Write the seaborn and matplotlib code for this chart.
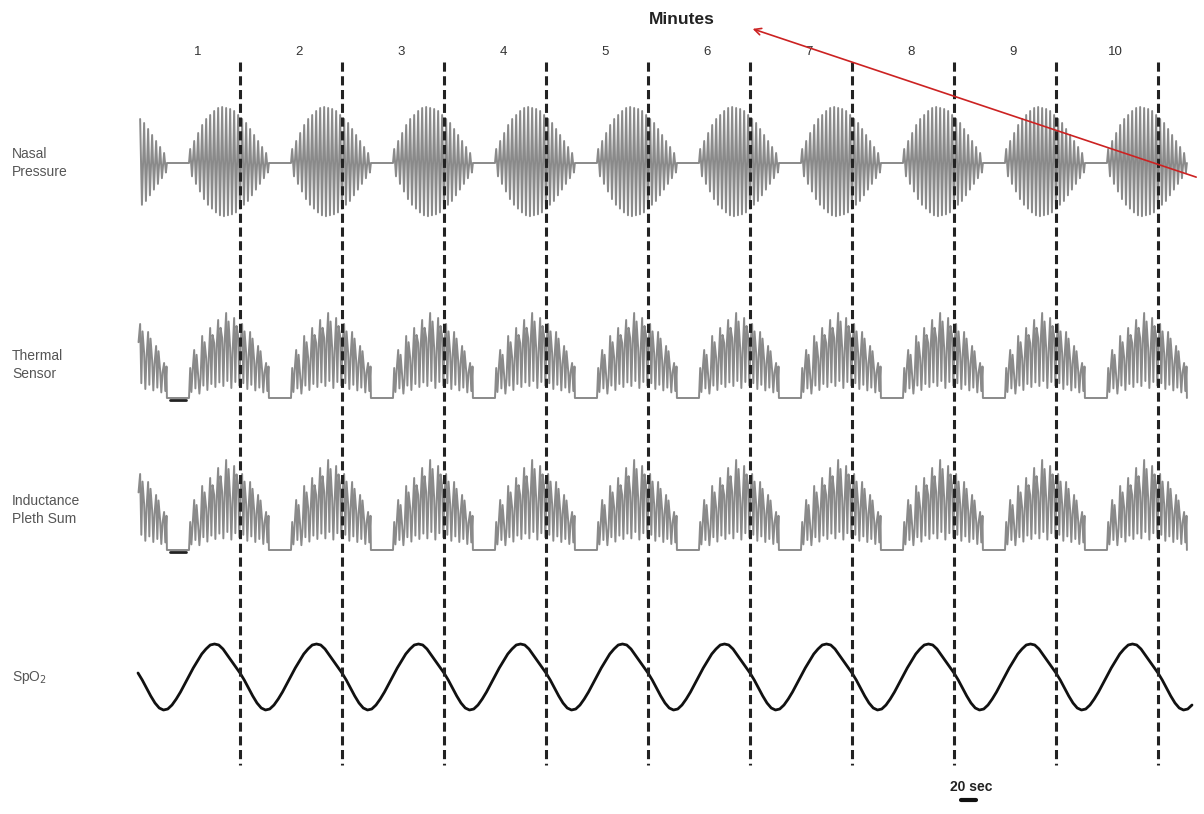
import pandas as pd
import seaborn as sns
import matplotlib.pyplot as plt

sns.set_theme(style="white")
plt.rcParams['font.family'] = ['Liberation Sans', 'DejaVu Sans']

minutes = [1, 2, 3, 4, 5, 6, 7, 8, 9, 10]
minute_lines = [60, 120, 180, 240, 300, 360, 420, 480, 540, 600]
channels = ["Nasal\nPressure", "Thermal\nSensor", "Inductance\nPleth Sum", "SpO$_2$"]
channel_y = [163, 365, 510, 677]

# breath amplitudes within one burst (pixel units)
nasal_amp = [14, 22, 30, 38, 44, 48, 52, 55, 56, 55, 54, 52, 48, 44, 40, 34, 28, 22, 16, 10]
thermal_amp = [30, 48, 22, 62, 40, 70, 55, 78, 60, 85, 50, 80, 62, 74, 45, 66, 38, 52, 28, 35]
pleth_amp = [28, 50, 24, 64, 42, 72, 55, 82, 58, 90, 52, 84, 64, 76, 46, 68, 40, 55, 30, 38]
# one SpO2 cycle (60 s, 2.5 s steps), pixel offsets (down = positive)
spo2_cycle = [-4, 3, 11, 19, 26, 31, 33, 32, 28, 22, 15, 7,
              -1, -9, -16, -23, -28, -32, -33, -32, -28, -22, -16, -10]

burst_start, burst_end = 30, 77
xmin, xmax = -138 / 102 * 60, (1204 - 138) / 102 * 60


def burst_signal(amps, base, bipolar):
    xs, ys = [], []
    for k in range(-1, 10):
        t0 = 60 * k + burst_start
        dt = (burst_end - burst_start) / len(amps)
        xs.append(t0); ys.append(base)
        for i, a in enumerate(amps):
            t = t0 + i * dt
            if bipolar:
                xs += [t + dt * 0.3, t + dt * 0.75]
                ys += [base - a, base + a * 0.95]
            else:
                xs += [t + dt * 0.3, t + dt * 0.6, t + dt * 0.9]
                ys += [base - a, base - a * 0.2, base - a * 0.9]
        xs.append(t0 + burst_end - burst_start); ys.append(base)
    df = pd.DataFrame({"x": xs, "y": ys})
    return df[(df.x >= 0) & (df.x <= 622)]


fig = plt.figure(figsize=(12.04, 8.14), dpi=100)
ax = fig.add_axes([0, 0, 1, 1])
fig.patch.set_facecolor("white")

gray = "#8a8a8a"
for df in [burst_signal(nasal_amp, 163, True),
           burst_signal(thermal_amp, 398, False),
           burst_signal(pleth_amp, 550, False)]:
    sns.lineplot(data=df, x="x", y="y", ax=ax, sort=False, estimator=None,
                 color=gray, lw=1.4)

# short dark baseline dashes at the first apnea
ax.plot([19, 28], [400, 400], color="#222222", lw=2)
ax.plot([19, 28], [552, 552], color="#222222", lw=2)

sx, sy = [], []
for k in range(11):
    for i, v in enumerate(spo2_cycle):
        sx.append(k * 60 + i * 2.5)
        sy.append(677 + v)
spo2 = pd.DataFrame({"x": sx, "y": sy})
spo2 = spo2[(spo2.x >= 0) & (spo2.x <= 622)]
sns.lineplot(data=spo2, x="x", y="y", ax=ax, sort=False, estimator=None,
             color="#111111", lw=2)

for xl in minute_lines:
    ax.plot([xl, xl], [62, 765], color="#222222", lw=2.2, ls=(0, (3, 1.5)))

for m in minutes:
    ax.text(60 * m - 25, 52, str(m), ha="center", va="center", fontsize=9.5, color="#333333")
ax.text(320, 20, "Minutes", ha="center", va="center", fontsize=12.5,
        fontweight="bold", color="#222222")

for name, y in zip(channels, channel_y):
    ax.text(-74, y, name, ha="left", va="center", fontsize=10, color="#555555",
            linespacing=1.3)

# 20 sec scale bar
ax.text(490, 787, "20 sec", ha="center", va="center", fontsize=10,
        fontweight="bold", color="#222222")
ax.plot([484, 493], [800, 800], color="#111111", lw=3)

# red arrow
ax.annotate("", xy=(360, 28), xytext=(624, 178),
            arrowprops=dict(arrowstyle="->", color="#cc2222", lw=1.2))

ax.set_xlim(xmin, xmax)
ax.set_ylim(814, 0)
ax.axis("off")
fig.savefig("out.png", dpi=100, facecolor="white")
